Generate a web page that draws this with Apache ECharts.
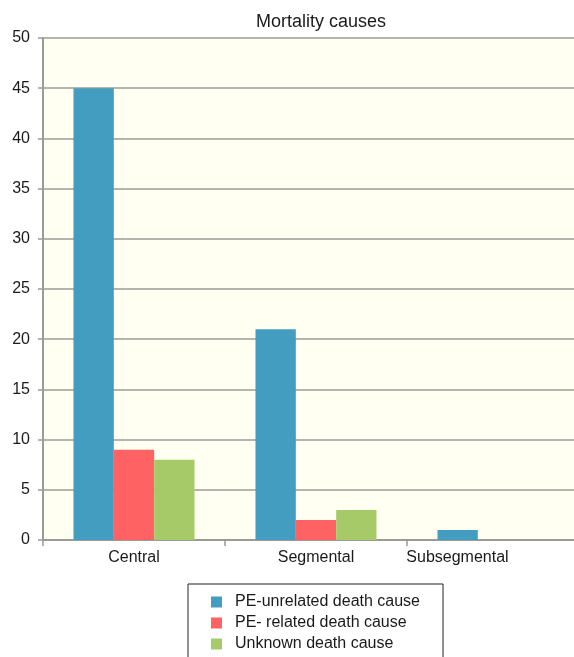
<!DOCTYPE html>
<html>
<head>
<meta charset="utf-8">
<script src="https://cdn.jsdelivr.net/npm/echarts@6/dist/echarts.min.js"></script>
<style>
html,body{margin:0;padding:0;background:#fff;}
#chart{width:574px;height:657px;}
</style>
</head>
<body>
<div id="chart"></div>
<script>
const categories = ['Central', 'Segmental', 'Subsegmental'];
const seriesNames = ['PE-unrelated death cause', 'PE- related death cause', 'Unknown death cause'];
const peUnrelated = [45, 21, 1];
const peRelated = [9, 2, 0];
const unknownCause = [8, 3, 0];
const yTicks = [0, 5, 10, 15, 20, 25, 30, 35, 40, 45, 50];

const colors = ['#439dc1', '#fe6262', '#a7ca69'];
const FONT = '"Liberation Sans", Arial, Helvetica, sans-serif';

const chart = echarts.init(document.getElementById('chart'), null, {renderer: 'canvas'});

const catData = categories.map((c, i) => {
  if (i === categories.length - 1) {
    return {value: c, textStyle: {padding: [0, 81, 0, 0]}};
  }
  return c;
});

const values = [peUnrelated, peRelated, unknownCause];

chart.setOption({
  animation: false,
  backgroundColor: '#ffffff',
  title: {
    text: 'Mortality causes',
    left: 316,
    textAlign: 'center',
    top: 8,
    textStyle: {fontFamily: FONT, fontSize: 18, fontWeight: 'normal', color: '#1a1a1a'}
  },
  grid: {
    left: 43, width: 546, top: 38, bottom: 117,
    outerBoundsMode: 'none',
    containLabel: false,
    show: true, backgroundColor: '#fffff2', borderWidth: 0
  },
  legend: {
    data: seriesNames,
    orient: 'vertical',
    left: 188,
    top: 584,
    width: 265,
    height: 90,
    padding: [10, 23, 14, 23],
    itemWidth: 11,
    itemHeight: 11,
    itemGap: 5,
    icon: 'rect',
    borderColor: '#222',
    borderWidth: 1,
    backgroundColor: '#ffffff',
    textStyle: {fontFamily: FONT, fontSize: 16, lineHeight: 16, color: '#1a1a1a', padding: [0, 0, 0, 8]}
  },
  xAxis: {
    type: 'category',
    data: catData,
    boundaryGap: true,
    axisLine: {show: true, lineStyle: {color: '#9a9a96', width: 2}},
    axisTick: {show: true, length: 6, alignWithLabel: false, lineStyle: {color: '#9a9a96', width: 1.5}},
    axisLabel: {interval: 0, margin: 10, fontFamily: FONT, fontSize: 16, color: '#1a1a1a', hideOverlap: false},
    splitLine: {show: false}
  },
  yAxis: {
    type: 'value',
    min: 0, max: 50, interval: 5,
    axisLine: {show: true, lineStyle: {color: '#9a9a96', width: 2}},
    axisTick: {show: true, length: 5, lineStyle: {color: '#9a9a96', width: 1.5}},
    axisLabel: {margin: 13, fontFamily: FONT, fontSize: 16, color: '#1a1a1a',
      formatter: v => (yTicks.indexOf(v) >= 0 ? String(v) : '')},
    splitLine: {show: true, lineStyle: {color: '#9d9d98', width: 1.5}}
  },
  series: seriesNames.map((name, i) => ({
    name: name,
    type: 'bar',
    data: values[i],
    barGap: '0%',
    barCategoryGap: '33.5%',
    itemStyle: {color: colors[i]},
    emphasis: {disabled: true}
  }))
});
</script>
</body>
</html>
